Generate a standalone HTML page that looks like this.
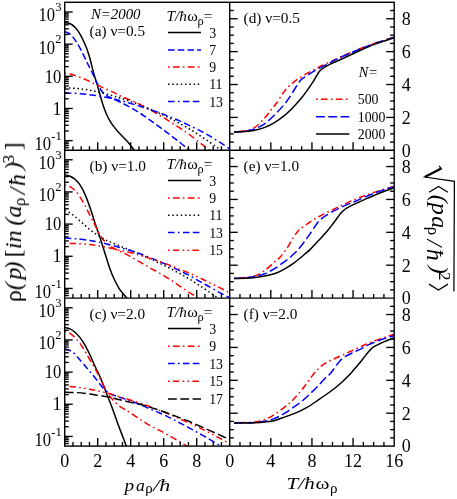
<!DOCTYPE html>
<html><head><meta charset="utf-8"><title>chart</title>
<style>html,body{margin:0;padding:0;background:#fff;}svg{display:block;}text{font-family:"Liberation Serif",serif;fill:#000;}</style>
</head><body>
<svg width="457" height="499" viewBox="0 0 457 499">
<g style="filter:opacity(100%)">
<defs>
<clipPath id="cl0"><rect x="64.7" y="2.3" width="165.0" height="148.0"/></clipPath>
<clipPath id="cr0"><rect x="229.7" y="2.3" width="164.5" height="148.0"/></clipPath>
<clipPath id="cl1"><rect x="64.7" y="150.1" width="165.0" height="148.0"/></clipPath>
<clipPath id="cr1"><rect x="229.7" y="150.1" width="164.5" height="148.0"/></clipPath>
<clipPath id="cl2"><rect x="64.7" y="298.1" width="165.0" height="148.0"/></clipPath>
<clipPath id="cr2"><rect x="229.7" y="298.1" width="164.5" height="148.0"/></clipPath>
</defs>
<path d="M64.70,22.50C65.58,22.72 68.28,23.00 70.00,23.80C71.72,24.60 73.33,25.58 75.00,27.30C76.67,29.02 78.33,31.27 80.00,34.10C81.67,36.93 83.67,41.28 85.00,44.30C86.33,47.32 87.08,49.50 88.00,52.20C88.92,54.90 89.72,57.60 90.50,60.50C91.28,63.40 91.97,66.80 92.70,69.60C93.43,72.40 94.15,74.80 94.90,77.30C95.65,79.80 96.53,82.38 97.20,84.60C97.87,86.82 98.37,88.70 98.90,90.60C99.43,92.50 99.72,93.62 100.40,96.00C101.08,98.38 102.02,101.95 103.00,104.90C103.98,107.85 105.20,111.13 106.30,113.70C107.40,116.27 108.32,118.10 109.60,120.30C110.88,122.50 112.17,124.52 114.00,126.90C115.83,129.28 118.40,132.20 120.60,134.60C122.80,137.00 125.08,138.90 127.20,141.30C129.32,143.70 131.67,146.95 133.30,149.00C134.93,151.05 136.38,152.83 137.00,153.60" fill="none" stroke="#000" stroke-width="1.5" clip-path="url(#cl0)"/>
<path d="M64.70,31.60C65.58,32.02 68.28,32.72 70.00,34.10C71.72,35.48 73.33,37.55 75.00,39.90C76.67,42.25 78.33,45.15 80.00,48.20C81.67,51.25 83.62,55.40 85.00,58.20C86.38,61.00 86.98,62.33 88.30,65.00C89.62,67.67 91.48,71.25 92.90,74.20C94.32,77.15 95.62,80.32 96.80,82.70C97.98,85.08 99.05,86.95 100.00,88.50C100.95,90.05 101.58,90.92 102.50,92.00C103.42,93.08 103.98,93.97 105.50,95.00C107.02,96.03 109.18,97.03 111.60,98.20C114.02,99.37 116.93,100.50 120.00,102.00C123.07,103.50 126.67,105.33 130.00,107.20C133.33,109.07 136.67,111.05 140.00,113.20C143.33,115.35 146.67,117.75 150.00,120.10C153.33,122.45 156.67,124.85 160.00,127.30C163.33,129.75 166.67,132.27 170.00,134.80C173.33,137.33 177.10,140.20 180.00,142.50C182.90,144.80 185.40,146.92 187.40,148.60C189.40,150.28 191.23,151.93 192.00,152.60" fill="none" stroke="#0000ff" stroke-width="1.5" stroke-dasharray="6.6 3.1" clip-path="url(#cl0)"/>
<path d="M64.70,73.10C65.58,73.25 68.27,73.60 70.00,74.00C71.73,74.40 72.50,74.57 75.10,75.50C77.70,76.43 82.10,78.08 85.60,79.60C89.10,81.12 92.60,82.98 96.10,84.60C99.60,86.22 103.53,87.93 106.60,89.30C109.67,90.67 112.27,91.72 114.50,92.80C116.73,93.88 117.42,94.62 120.00,95.80C122.58,96.98 126.67,98.47 130.00,99.90C133.33,101.33 136.67,102.73 140.00,104.40C143.33,106.07 146.67,108.05 150.00,109.90C153.33,111.75 156.67,113.53 160.00,115.50C163.33,117.47 166.67,119.58 170.00,121.70C173.33,123.82 176.67,125.98 180.00,128.20C183.33,130.42 186.67,132.55 190.00,135.00C193.33,137.45 196.97,140.57 200.00,142.90C203.03,145.23 206.03,147.32 208.20,149.00C210.37,150.68 212.20,152.33 213.00,153.00" fill="none" stroke="#ff0000" stroke-width="1.5" stroke-dasharray="1.6 3.3 6.7 3.3" clip-path="url(#cl0)"/>
<path d="M64.70,87.70C65.57,87.75 67.28,87.80 69.90,88.00C72.52,88.20 76.90,88.50 80.40,88.90C83.90,89.30 87.40,89.75 90.90,90.40C94.40,91.05 97.90,91.93 101.40,92.80C104.90,93.67 108.80,94.75 111.90,95.60C115.00,96.45 116.98,96.95 120.00,97.90C123.02,98.85 126.67,100.13 130.00,101.30C133.33,102.47 136.67,103.60 140.00,104.90C143.33,106.20 146.67,107.67 150.00,109.10C153.33,110.53 156.67,111.95 160.00,113.50C163.33,115.05 166.67,116.70 170.00,118.40C173.33,120.10 176.67,121.88 180.00,123.70C183.33,125.52 186.67,127.30 190.00,129.30C193.33,131.30 196.67,133.52 200.00,135.70C203.33,137.88 206.97,140.32 210.00,142.40C213.03,144.48 215.87,146.43 218.20,148.20C220.53,149.97 223.03,152.20 224.00,153.00" fill="none" stroke="#000" stroke-width="1.5" stroke-dasharray="1.5 2.75" clip-path="url(#cl0)"/>
<path d="M64.70,92.90C65.13,92.92 64.68,92.87 67.30,93.00C69.92,93.13 76.47,93.38 80.40,93.70C84.33,94.02 87.40,94.43 90.90,94.90C94.40,95.37 97.90,95.88 101.40,96.50C104.90,97.12 108.80,97.95 111.90,98.60C115.00,99.25 116.98,99.62 120.00,100.40C123.02,101.18 126.67,102.32 130.00,103.30C133.33,104.28 136.67,105.25 140.00,106.30C143.33,107.35 146.67,108.50 150.00,109.60C153.33,110.70 156.67,111.68 160.00,112.90C163.33,114.12 166.67,115.53 170.00,116.90C173.33,118.27 176.67,119.62 180.00,121.10C183.33,122.58 186.67,124.20 190.00,125.80C193.33,127.40 196.67,128.97 200.00,130.70C203.33,132.43 206.67,134.25 210.00,136.20C213.33,138.15 216.83,140.35 220.00,142.40C223.17,144.45 226.83,146.90 229.00,148.50C231.17,150.10 232.33,151.42 233.00,152.00" fill="none" stroke="#0000ff" stroke-width="1.5" stroke-dasharray="6.6 3.3 1.7 3.3 6.6 3.3" clip-path="url(#cl0)"/>
<path d="M64.70,174.60C65.58,174.87 68.28,175.43 70.00,176.20C71.72,176.97 73.25,177.63 75.00,179.20C76.75,180.77 78.67,182.70 80.50,185.60C82.33,188.50 84.17,192.18 86.00,196.60C87.83,201.02 90.03,207.78 91.50,212.10C92.97,216.42 93.80,219.48 94.80,222.50C95.80,225.52 96.60,227.62 97.50,230.20C98.40,232.78 99.18,234.87 100.20,238.00C101.22,241.13 102.53,245.57 103.60,249.00C104.67,252.43 105.50,255.18 106.60,258.60C107.70,262.02 108.97,266.13 110.20,269.50C111.43,272.87 112.53,275.67 114.00,278.80C115.47,281.93 117.33,285.63 119.00,288.30C120.67,290.97 122.60,293.07 124.00,294.80C125.40,296.53 126.40,297.50 127.40,298.70C128.40,299.90 129.57,301.45 130.00,302.00" fill="none" stroke="#000" stroke-width="1.5" clip-path="url(#cl1)"/>
<path d="M64.70,184.90C65.58,185.18 68.28,185.68 70.00,186.60C71.72,187.52 73.33,188.65 75.00,190.40C76.67,192.15 78.33,194.60 80.00,197.10C81.67,199.60 83.33,202.35 85.00,205.40C86.67,208.45 88.47,212.38 90.00,215.40C91.53,218.42 93.03,221.18 94.20,223.50C95.37,225.82 96.10,227.52 97.00,229.30C97.90,231.08 98.57,232.45 99.60,234.20C100.63,235.95 101.77,238.07 103.20,239.80C104.63,241.53 106.85,243.42 108.20,244.60C109.55,245.78 109.27,245.75 111.30,246.90C113.33,248.05 117.28,249.93 120.40,251.50C123.52,253.07 126.73,254.53 130.00,256.30C133.27,258.07 136.67,260.17 140.00,262.10C143.33,264.03 146.67,266.02 150.00,267.90C153.33,269.78 156.67,271.45 160.00,273.40C163.33,275.35 166.67,277.45 170.00,279.60C173.33,281.75 176.67,284.08 180.00,286.30C183.33,288.52 187.23,291.12 190.00,292.90C192.77,294.68 194.60,295.65 196.60,297.00C198.60,298.35 201.10,300.33 202.00,301.00" fill="none" stroke="#ff0000" stroke-width="1.5" stroke-dasharray="1.6 3.3 6.7 3.3" clip-path="url(#cl1)"/>
<path d="M64.70,210.40C65.58,210.82 68.28,211.88 70.00,212.90C71.72,213.92 73.33,215.15 75.00,216.50C76.67,217.85 78.33,219.53 80.00,221.00C81.67,222.47 83.50,223.97 85.00,225.30C86.50,226.63 87.68,227.92 89.00,229.00C90.32,230.08 91.35,230.70 92.90,231.80C94.45,232.90 96.30,234.32 98.30,235.60C100.30,236.88 102.97,238.45 104.90,239.50C106.83,240.55 107.38,240.82 109.90,241.90C112.42,242.98 116.65,244.65 120.00,246.00C123.35,247.35 126.67,248.62 130.00,250.00C133.33,251.38 136.67,252.83 140.00,254.30C143.33,255.77 146.67,257.28 150.00,258.80C153.33,260.32 156.67,261.82 160.00,263.40C163.33,264.98 166.67,266.58 170.00,268.30C173.33,270.02 176.67,271.85 180.00,273.70C183.33,275.55 186.67,277.37 190.00,279.40C193.33,281.43 196.67,283.72 200.00,285.90C203.33,288.08 207.25,290.65 210.00,292.50C212.75,294.35 214.50,295.58 216.50,297.00C218.50,298.42 221.08,300.33 222.00,301.00" fill="none" stroke="#000" stroke-width="1.5" stroke-dasharray="1.5 2.75" clip-path="url(#cl1)"/>
<path d="M64.70,238.00C66.68,238.13 72.40,238.40 76.60,238.80C80.80,239.20 86.32,239.87 89.90,240.40C93.48,240.93 94.53,241.20 98.10,242.00C101.67,242.80 107.65,244.27 111.30,245.20C114.95,246.13 116.88,246.72 120.00,247.60C123.12,248.48 126.67,249.47 130.00,250.50C133.33,251.53 136.67,252.62 140.00,253.80C143.33,254.98 146.67,256.27 150.00,257.60C153.33,258.93 156.67,260.38 160.00,261.80C163.33,263.22 166.67,264.60 170.00,266.10C173.33,267.60 176.67,269.20 180.00,270.80C183.33,272.40 186.67,273.90 190.00,275.70C193.33,277.50 196.67,279.70 200.00,281.60C203.33,283.50 206.67,285.22 210.00,287.10C213.33,288.98 216.97,291.25 220.00,292.90C223.03,294.55 226.03,295.82 228.20,297.00C230.37,298.18 232.20,299.50 233.00,300.00" fill="none" stroke="#0000ff" stroke-width="1.5" stroke-dasharray="6.6 3.3 1.7 3.3 6.6 3.3" clip-path="url(#cl1)"/>
<path d="M64.70,243.30C66.68,243.35 72.40,243.38 76.60,243.60C80.80,243.82 86.32,244.22 89.90,244.60C93.48,244.98 94.53,245.28 98.10,245.90C101.67,246.52 107.65,247.53 111.30,248.30C114.95,249.07 116.88,249.78 120.00,250.50C123.12,251.22 126.67,251.78 130.00,252.60C133.33,253.42 136.67,254.43 140.00,255.40C143.33,256.37 146.67,257.33 150.00,258.40C153.33,259.47 156.67,260.65 160.00,261.80C163.33,262.95 166.67,264.05 170.00,265.30C173.33,266.55 176.67,267.97 180.00,269.30C183.33,270.63 186.67,271.87 190.00,273.30C193.33,274.73 196.67,276.30 200.00,277.90C203.33,279.50 206.67,281.23 210.00,282.90C213.33,284.57 216.95,286.38 220.00,287.90C223.05,289.42 226.13,290.90 228.30,292.00C230.47,293.10 232.22,294.08 233.00,294.50" fill="none" stroke="#ff0000" stroke-width="1.5" stroke-dasharray="1.5 3.4 6.4 3.4 1.5 3.3" clip-path="url(#cl1)"/>
<path d="M64.70,327.60C65.58,327.82 68.28,328.12 70.00,328.90C71.72,329.68 73.33,330.85 75.00,332.30C76.67,333.75 78.33,335.47 80.00,337.60C81.67,339.73 83.33,342.20 85.00,345.10C86.67,348.00 88.33,351.48 90.00,355.00C91.67,358.52 93.35,362.62 95.00,366.20C96.65,369.78 98.72,373.90 99.90,376.50C101.08,379.10 101.08,379.22 102.10,381.80C103.12,384.38 104.70,388.63 106.00,392.00C107.30,395.37 108.65,398.75 109.90,402.00C111.15,405.25 112.07,407.58 113.50,411.50C114.93,415.42 117.02,421.45 118.50,425.50C119.98,429.55 121.15,432.50 122.40,435.80C123.65,439.10 124.90,442.43 126.00,445.30C127.10,448.17 128.50,451.72 129.00,453.00" fill="none" stroke="#000" stroke-width="1.5" clip-path="url(#cl2)"/>
<path d="M64.70,331.30C65.58,331.65 68.28,332.35 70.00,333.40C71.72,334.45 73.33,335.93 75.00,337.60C76.67,339.27 78.33,341.13 80.00,343.40C81.67,345.67 83.33,348.43 85.00,351.20C86.67,353.97 88.33,357.12 90.00,360.00C91.67,362.88 93.48,365.75 95.00,368.50C96.52,371.25 97.67,373.67 99.10,376.50C100.53,379.33 102.08,382.67 103.60,385.50C105.12,388.33 106.80,391.25 108.20,393.50C109.60,395.75 110.40,397.12 112.00,399.00C113.60,400.88 115.80,403.13 117.80,404.80C119.80,406.47 121.97,407.70 124.00,409.00C126.03,410.30 127.33,410.88 130.00,412.60C132.67,414.32 136.67,417.13 140.00,419.30C143.33,421.47 146.67,423.72 150.00,425.60C153.33,427.48 156.67,428.83 160.00,430.60C163.33,432.37 166.67,434.32 170.00,436.20C173.33,438.08 177.23,440.28 180.00,441.90C182.77,443.52 184.60,444.72 186.60,445.90C188.60,447.08 191.10,448.48 192.00,449.00" fill="none" stroke="#ff0000" stroke-width="1.5" stroke-dasharray="1.6 3.3 6.7 3.3" clip-path="url(#cl2)"/>
<path d="M64.70,348.90C65.58,349.17 68.28,349.62 70.00,350.50C71.72,351.38 73.33,352.62 75.00,354.20C76.67,355.78 78.33,358.07 80.00,360.00C81.67,361.93 83.28,363.80 85.00,365.80C86.72,367.80 88.33,369.63 90.30,372.00C92.27,374.37 94.62,377.27 96.80,380.00C98.98,382.73 101.43,386.23 103.40,388.40C105.37,390.57 106.63,391.77 108.60,393.00C110.57,394.23 112.57,394.82 115.20,395.80C117.83,396.78 121.93,398.08 124.40,398.90C126.87,399.72 127.40,399.75 130.00,400.70C132.60,401.65 136.67,403.23 140.00,404.60C143.33,405.97 146.67,407.50 150.00,408.90C153.33,410.30 156.67,411.52 160.00,413.00C163.33,414.48 166.67,416.13 170.00,417.80C173.33,419.47 176.67,421.25 180.00,423.00C183.33,424.75 186.67,426.48 190.00,428.30C193.33,430.12 196.67,432.02 200.00,433.90C203.33,435.78 206.83,437.75 210.00,439.60C213.17,441.45 216.50,443.43 219.00,445.00C221.50,446.57 224.00,448.33 225.00,449.00" fill="none" stroke="#0000ff" stroke-width="1.5" stroke-dasharray="6.6 3.3 1.7 3.3 6.6 3.3" clip-path="url(#cl2)"/>
<path d="M64.70,386.00C66.68,386.18 72.40,386.55 76.60,387.10C80.80,387.65 86.75,388.77 89.90,389.30C93.05,389.83 92.82,389.72 95.50,390.30C98.18,390.88 102.50,391.87 106.00,392.80C109.50,393.73 113.00,394.87 116.50,395.90C120.00,396.93 123.08,397.80 127.00,399.00C130.92,400.20 136.17,401.80 140.00,403.10C143.83,404.40 146.67,405.55 150.00,406.80C153.33,408.05 156.67,409.30 160.00,410.60C163.33,411.90 166.67,413.22 170.00,414.60C173.33,415.98 176.67,417.45 180.00,418.90C183.33,420.35 186.67,421.77 190.00,423.30C193.33,424.83 196.67,426.47 200.00,428.10C203.33,429.73 206.67,431.38 210.00,433.10C213.33,434.82 216.83,436.68 220.00,438.40C223.17,440.12 226.83,442.13 229.00,443.40C231.17,444.67 232.33,445.57 233.00,446.00" fill="none" stroke="#ff0000" stroke-width="1.5" stroke-dasharray="1.5 3.4 6.4 3.4 1.5 3.3" clip-path="url(#cl2)"/>
<path d="M64.70,392.10C66.68,392.18 72.40,392.30 76.60,392.60C80.80,392.90 86.75,393.52 89.90,393.90C93.05,394.28 92.82,394.47 95.50,394.90C98.18,395.33 102.50,395.83 106.00,396.50C109.50,397.17 113.00,398.08 116.50,398.90C120.00,399.72 123.08,400.50 127.00,401.40C130.92,402.30 136.17,403.32 140.00,404.30C143.83,405.28 146.67,406.28 150.00,407.30C153.33,408.32 156.67,409.28 160.00,410.40C163.33,411.52 166.67,412.75 170.00,414.00C173.33,415.25 176.67,416.60 180.00,417.90C183.33,419.20 186.67,420.42 190.00,421.80C193.33,423.18 196.67,424.73 200.00,426.20C203.33,427.67 206.67,429.12 210.00,430.60C213.33,432.08 216.83,433.67 220.00,435.10C223.17,436.53 226.83,438.22 229.00,439.20C231.17,440.18 232.33,440.70 233.00,441.00" fill="none" stroke="#000" stroke-width="1.5" stroke-dasharray="8.8 3.5" clip-path="url(#cl2)"/>
<path d="M234.10,131.90C235.92,131.70 241.53,131.45 245.00,130.70C248.47,129.95 251.58,129.55 254.90,127.40C258.22,125.25 262.22,120.70 264.90,117.80C267.58,114.90 269.08,112.42 271.00,110.00C272.92,107.58 274.53,105.92 276.40,103.30C278.27,100.68 280.40,96.87 282.20,94.30C284.00,91.73 285.27,89.93 287.20,87.90C289.13,85.87 291.12,84.17 293.80,82.10C296.48,80.03 300.07,77.50 303.30,75.50C306.53,73.50 309.88,71.85 313.20,70.10C316.52,68.35 319.87,66.62 323.20,65.00C326.53,63.38 330.13,61.82 333.20,60.40C336.27,58.98 337.42,58.32 341.60,56.50C345.78,54.68 352.75,51.73 358.30,49.50C363.85,47.27 368.92,45.15 374.90,43.10C380.88,41.05 390.98,38.18 394.20,37.20" fill="none" stroke="#ff0000" stroke-width="1.5" stroke-dasharray="1.6 3.3 6.7 3.3" clip-path="url(#cr0)"/>
<path d="M234.10,132.00C235.92,131.87 241.53,131.70 245.00,131.20C248.47,130.70 251.58,130.27 254.90,129.00C258.22,127.73 261.57,126.00 264.90,123.60C268.23,121.20 271.55,117.93 274.90,114.60C278.25,111.27 282.40,106.73 285.00,103.60C287.60,100.47 288.67,98.57 290.50,95.80C292.33,93.03 294.35,89.53 296.00,87.00C297.65,84.47 299.15,82.12 300.40,80.60C301.65,79.08 302.40,78.75 303.50,77.90C304.60,77.05 305.58,76.43 307.00,75.50C308.42,74.57 310.17,73.40 312.00,72.30C313.83,71.20 315.17,70.40 318.00,68.90C320.83,67.40 326.47,64.62 329.00,63.30C331.53,61.98 331.10,62.08 333.20,61.00C335.30,59.92 337.42,58.67 341.60,56.80C345.78,54.93 352.75,52.03 358.30,49.80C363.85,47.57 368.92,45.48 374.90,43.40C380.88,41.32 390.98,38.32 394.20,37.30" fill="none" stroke="#0000ff" stroke-width="1.5" stroke-dasharray="8.8 3.5" clip-path="url(#cr0)"/>
<path d="M234.10,132.00C235.92,131.92 241.53,131.80 245.00,131.50C248.47,131.20 251.58,130.88 254.90,130.20C258.22,129.52 261.57,128.70 264.90,127.40C268.23,126.10 271.57,124.43 274.90,122.40C278.23,120.37 282.30,117.27 284.90,115.20C287.50,113.13 288.65,111.83 290.50,110.00C292.35,108.17 294.17,106.20 296.00,104.20C297.83,102.20 299.67,100.27 301.50,98.00C303.33,95.73 305.17,93.17 307.00,90.60C308.83,88.03 310.92,85.03 312.50,82.60C314.08,80.17 315.40,77.80 316.50,76.00C317.60,74.20 318.35,72.85 319.10,71.80C319.85,70.75 320.27,70.35 321.00,69.70C321.73,69.05 322.33,68.63 323.50,67.90C324.67,67.17 326.08,66.28 328.00,65.30C329.92,64.32 332.73,63.05 335.00,62.00C337.27,60.95 337.72,60.80 341.60,59.00C345.48,57.20 352.75,53.68 358.30,51.20C363.85,48.72 368.92,46.35 374.90,44.10C380.88,41.85 390.98,38.77 394.20,37.70" fill="none" stroke="#000" stroke-width="1.5" clip-path="url(#cr0)"/>
<path d="M234.10,278.20C235.92,278.08 241.53,277.88 245.00,277.50C248.47,277.12 251.58,277.08 254.90,275.90C258.22,274.72 261.57,272.78 264.90,270.40C268.23,268.02 272.38,263.80 274.90,261.60C277.42,259.40 278.03,259.37 280.00,257.20C281.97,255.03 284.48,251.83 286.70,248.60C288.92,245.37 291.37,240.77 293.30,237.80C295.23,234.83 296.37,232.83 298.30,230.80C300.23,228.77 302.40,227.43 304.90,225.60C307.40,223.77 310.25,221.67 313.30,219.80C316.35,217.93 319.88,216.13 323.20,214.40C326.52,212.67 329.87,211.02 333.20,209.40C336.53,207.78 339.02,206.62 343.20,204.70C347.38,202.78 353.02,200.00 358.30,197.90C363.58,195.80 368.92,194.05 374.90,192.10C380.88,190.15 390.98,187.18 394.20,186.20" fill="none" stroke="#ff0000" stroke-width="1.5" stroke-dasharray="1.6 3.3 6.7 3.3" clip-path="url(#cr1)"/>
<path d="M234.10,278.40C235.92,278.33 241.53,278.32 245.00,278.00C248.47,277.68 251.58,277.22 254.90,276.50C258.22,275.78 261.57,275.05 264.90,273.70C268.23,272.35 271.57,270.45 274.90,268.40C278.23,266.35 282.38,263.23 284.90,261.40C287.42,259.57 288.05,259.08 290.00,257.40C291.95,255.72 294.38,253.67 296.60,251.30C298.82,248.93 301.08,246.08 303.30,243.20C305.52,240.32 307.68,237.20 309.90,234.00C312.12,230.80 314.80,226.43 316.60,224.00C318.40,221.57 319.03,220.87 320.70,219.40C322.37,217.93 323.97,216.83 326.60,215.20C329.23,213.57 333.18,211.32 336.50,209.60C339.82,207.88 342.87,206.50 346.50,204.90C350.13,203.30 353.57,202.00 358.30,200.00C363.03,198.00 368.92,195.12 374.90,192.90C380.88,190.68 390.98,187.73 394.20,186.70" fill="none" stroke="#0000ff" stroke-width="1.5" stroke-dasharray="8.8 3.5" clip-path="url(#cr1)"/>
<path d="M234.10,278.40C235.92,278.37 241.53,278.35 245.00,278.20C248.47,278.05 251.58,277.87 254.90,277.50C258.22,277.13 261.57,276.67 264.90,276.00C268.23,275.33 272.05,274.45 274.90,273.50C277.75,272.55 279.82,271.40 282.00,270.30C284.18,269.20 286.17,268.02 288.00,266.90C289.83,265.78 291.17,264.92 293.00,263.60C294.83,262.28 297.17,260.47 299.00,259.00C300.83,257.53 302.17,256.37 304.00,254.80C305.83,253.23 308.00,251.53 310.00,249.60C312.00,247.67 314.08,245.23 316.00,243.20C317.92,241.17 319.67,239.38 321.50,237.40C323.33,235.42 325.17,233.47 327.00,231.30C328.83,229.13 330.67,226.78 332.50,224.40C334.33,222.02 336.58,218.88 338.00,217.00C339.42,215.12 340.08,214.18 341.00,213.10C341.92,212.02 342.67,211.27 343.50,210.50C344.33,209.73 345.08,209.12 346.00,208.50C346.92,207.88 347.50,207.57 349.00,206.80C350.50,206.03 352.35,205.13 355.00,203.90C357.65,202.67 361.03,201.10 364.90,199.40C368.77,197.70 373.32,195.63 378.20,193.70C383.08,191.77 391.53,188.78 394.20,187.80" fill="none" stroke="#000" stroke-width="1.5" clip-path="url(#cr1)"/>
<path d="M234.10,423.00C237.57,422.83 249.77,422.57 254.90,422.00C260.03,421.43 261.57,420.90 264.90,419.60C268.23,418.30 271.57,416.32 274.90,414.20C278.23,412.08 282.10,409.05 284.90,406.90C287.70,404.75 289.47,403.45 291.70,401.30C293.93,399.15 296.08,396.58 298.30,394.00C300.52,391.42 302.78,388.70 305.00,385.80C307.22,382.90 309.67,379.13 311.60,376.60C313.53,374.07 314.93,372.40 316.60,370.60C318.27,368.80 319.67,367.27 321.60,365.80C323.53,364.33 325.98,363.02 328.20,361.80C330.42,360.58 332.10,359.82 334.90,358.50C337.70,357.18 341.67,355.42 345.00,353.90C348.33,352.38 351.58,350.92 354.90,349.40C358.22,347.88 361.57,346.23 364.90,344.80C368.23,343.37 371.57,342.05 374.90,340.80C378.23,339.55 381.68,338.40 384.90,337.30C388.12,336.20 392.65,334.72 394.20,334.20" fill="none" stroke="#ff0000" stroke-width="1.5" stroke-dasharray="1.6 3.3 6.7 3.3" clip-path="url(#cr2)"/>
<path d="M234.10,423.00C237.57,422.92 249.77,422.80 254.90,422.50C260.03,422.20 261.57,421.88 264.90,421.20C268.23,420.52 271.57,419.77 274.90,418.40C278.23,417.03 281.83,414.85 284.90,413.00C287.97,411.15 290.52,409.22 293.30,407.30C296.08,405.38 298.83,403.72 301.60,401.50C304.37,399.28 307.12,396.63 309.90,394.00C312.68,391.37 315.52,388.60 318.30,385.70C321.08,382.80 324.65,378.53 326.60,376.60C328.55,374.67 328.52,375.77 330.00,374.10C331.48,372.43 333.67,368.98 335.50,366.60C337.33,364.22 339.53,361.40 341.00,359.80C342.47,358.20 343.38,357.67 344.30,357.00C345.22,356.33 345.22,356.47 346.50,355.80C347.78,355.13 349.58,354.17 352.00,353.00C354.42,351.83 358.30,350.15 361.00,348.80C363.70,347.45 365.33,346.23 368.20,344.90C371.07,343.57 373.87,342.37 378.20,340.80C382.53,339.23 391.53,336.38 394.20,335.50" fill="none" stroke="#0000ff" stroke-width="1.5" stroke-dasharray="8.8 3.5" clip-path="url(#cr2)"/>
<path d="M234.10,423.00C235.92,423.00 241.53,423.05 245.00,423.00C248.47,422.95 251.58,422.88 254.90,422.70C258.22,422.52 261.57,422.28 264.90,421.90C268.23,421.52 271.55,421.23 274.90,420.40C278.25,419.57 281.48,418.15 285.00,416.90C288.52,415.65 292.33,414.48 296.00,412.90C299.67,411.32 303.33,409.52 307.00,407.40C310.67,405.28 314.33,402.68 318.00,400.20C321.67,397.72 326.17,394.53 329.00,392.50C331.83,390.47 333.00,389.58 335.00,388.00C337.00,386.42 339.08,384.70 341.00,383.00C342.92,381.30 344.67,379.65 346.50,377.80C348.33,375.95 350.17,373.93 352.00,371.90C353.83,369.87 355.67,367.80 357.50,365.60C359.33,363.40 361.17,361.00 363.00,358.70C364.83,356.40 367.08,353.48 368.50,351.80C369.92,350.12 370.58,349.45 371.50,348.60C372.42,347.75 372.58,347.53 374.00,346.70C375.42,345.87 378.18,344.48 380.00,343.60C381.82,342.72 382.53,342.37 384.90,341.40C387.27,340.43 392.65,338.40 394.20,337.80" fill="none" stroke="#000" stroke-width="1.5" clip-path="url(#cr2)"/>
<line x1="64.70" y1="147.75" x2="68.80" y2="147.75" stroke="#000" stroke-width="1.35" />
<line x1="64.70" y1="145.60" x2="68.80" y2="145.60" stroke="#000" stroke-width="1.35" />
<line x1="64.70" y1="143.74" x2="68.80" y2="143.74" stroke="#000" stroke-width="1.35" />
<line x1="64.70" y1="142.09" x2="68.80" y2="142.09" stroke="#000" stroke-width="1.35" />
<line x1="64.70" y1="140.62" x2="72.70" y2="140.62" stroke="#000" stroke-width="1.35" />
<line x1="64.70" y1="130.94" x2="68.80" y2="130.94" stroke="#000" stroke-width="1.35" />
<line x1="64.70" y1="125.28" x2="68.80" y2="125.28" stroke="#000" stroke-width="1.35" />
<line x1="64.70" y1="121.26" x2="68.80" y2="121.26" stroke="#000" stroke-width="1.35" />
<line x1="64.70" y1="118.14" x2="68.80" y2="118.14" stroke="#000" stroke-width="1.35" />
<line x1="64.70" y1="115.59" x2="68.80" y2="115.59" stroke="#000" stroke-width="1.35" />
<line x1="64.70" y1="113.44" x2="68.80" y2="113.44" stroke="#000" stroke-width="1.35" />
<line x1="64.70" y1="111.58" x2="68.80" y2="111.58" stroke="#000" stroke-width="1.35" />
<line x1="64.70" y1="109.93" x2="68.80" y2="109.93" stroke="#000" stroke-width="1.35" />
<line x1="64.70" y1="108.46" x2="72.70" y2="108.46" stroke="#000" stroke-width="1.35" />
<line x1="64.70" y1="98.78" x2="68.80" y2="98.78" stroke="#000" stroke-width="1.35" />
<line x1="64.70" y1="93.12" x2="68.80" y2="93.12" stroke="#000" stroke-width="1.35" />
<line x1="64.70" y1="89.10" x2="68.80" y2="89.10" stroke="#000" stroke-width="1.35" />
<line x1="64.70" y1="85.98" x2="68.80" y2="85.98" stroke="#000" stroke-width="1.35" />
<line x1="64.70" y1="83.43" x2="68.80" y2="83.43" stroke="#000" stroke-width="1.35" />
<line x1="64.70" y1="81.28" x2="68.80" y2="81.28" stroke="#000" stroke-width="1.35" />
<line x1="64.70" y1="79.42" x2="68.80" y2="79.42" stroke="#000" stroke-width="1.35" />
<line x1="64.70" y1="77.77" x2="68.80" y2="77.77" stroke="#000" stroke-width="1.35" />
<line x1="64.70" y1="76.30" x2="72.70" y2="76.30" stroke="#000" stroke-width="1.35" />
<line x1="64.70" y1="66.62" x2="68.80" y2="66.62" stroke="#000" stroke-width="1.35" />
<line x1="64.70" y1="60.96" x2="68.80" y2="60.96" stroke="#000" stroke-width="1.35" />
<line x1="64.70" y1="56.94" x2="68.80" y2="56.94" stroke="#000" stroke-width="1.35" />
<line x1="64.70" y1="53.82" x2="68.80" y2="53.82" stroke="#000" stroke-width="1.35" />
<line x1="64.70" y1="51.28" x2="68.80" y2="51.28" stroke="#000" stroke-width="1.35" />
<line x1="64.70" y1="49.12" x2="68.80" y2="49.12" stroke="#000" stroke-width="1.35" />
<line x1="64.70" y1="47.26" x2="68.80" y2="47.26" stroke="#000" stroke-width="1.35" />
<line x1="64.70" y1="45.61" x2="68.80" y2="45.61" stroke="#000" stroke-width="1.35" />
<line x1="64.70" y1="44.14" x2="72.70" y2="44.14" stroke="#000" stroke-width="1.35" />
<line x1="64.70" y1="34.46" x2="68.80" y2="34.46" stroke="#000" stroke-width="1.35" />
<line x1="64.70" y1="28.80" x2="68.80" y2="28.80" stroke="#000" stroke-width="1.35" />
<line x1="64.70" y1="24.78" x2="68.80" y2="24.78" stroke="#000" stroke-width="1.35" />
<line x1="64.70" y1="21.66" x2="68.80" y2="21.66" stroke="#000" stroke-width="1.35" />
<line x1="64.70" y1="19.12" x2="68.80" y2="19.12" stroke="#000" stroke-width="1.35" />
<line x1="64.70" y1="16.96" x2="68.80" y2="16.96" stroke="#000" stroke-width="1.35" />
<line x1="64.70" y1="15.10" x2="68.80" y2="15.10" stroke="#000" stroke-width="1.35" />
<line x1="64.70" y1="13.45" x2="68.80" y2="13.45" stroke="#000" stroke-width="1.35" />
<line x1="64.70" y1="11.98" x2="72.70" y2="11.98" stroke="#000" stroke-width="1.35" />
<line x1="72.95" y1="150.30" x2="72.95" y2="146.20" stroke="#000" stroke-width="1.35" />
<line x1="81.20" y1="150.30" x2="81.20" y2="146.20" stroke="#000" stroke-width="1.35" />
<line x1="89.45" y1="150.30" x2="89.45" y2="146.20" stroke="#000" stroke-width="1.35" />
<line x1="97.70" y1="150.30" x2="97.70" y2="142.30" stroke="#000" stroke-width="1.35" />
<line x1="105.95" y1="150.30" x2="105.95" y2="146.20" stroke="#000" stroke-width="1.35" />
<line x1="114.20" y1="150.30" x2="114.20" y2="146.20" stroke="#000" stroke-width="1.35" />
<line x1="122.45" y1="150.30" x2="122.45" y2="146.20" stroke="#000" stroke-width="1.35" />
<line x1="130.70" y1="150.30" x2="130.70" y2="142.30" stroke="#000" stroke-width="1.35" />
<line x1="138.95" y1="150.30" x2="138.95" y2="146.20" stroke="#000" stroke-width="1.35" />
<line x1="147.20" y1="150.30" x2="147.20" y2="146.20" stroke="#000" stroke-width="1.35" />
<line x1="155.45" y1="150.30" x2="155.45" y2="146.20" stroke="#000" stroke-width="1.35" />
<line x1="163.70" y1="150.30" x2="163.70" y2="142.30" stroke="#000" stroke-width="1.35" />
<line x1="171.95" y1="150.30" x2="171.95" y2="146.20" stroke="#000" stroke-width="1.35" />
<line x1="180.20" y1="150.30" x2="180.20" y2="146.20" stroke="#000" stroke-width="1.35" />
<line x1="188.45" y1="150.30" x2="188.45" y2="146.20" stroke="#000" stroke-width="1.35" />
<line x1="196.70" y1="150.30" x2="196.70" y2="142.30" stroke="#000" stroke-width="1.35" />
<line x1="204.95" y1="150.30" x2="204.95" y2="146.20" stroke="#000" stroke-width="1.35" />
<line x1="213.20" y1="150.30" x2="213.20" y2="146.20" stroke="#000" stroke-width="1.35" />
<line x1="221.45" y1="150.30" x2="221.45" y2="146.20" stroke="#000" stroke-width="1.35" />
<line x1="239.98" y1="150.30" x2="239.98" y2="146.20" stroke="#000" stroke-width="1.35" />
<line x1="250.26" y1="150.30" x2="250.26" y2="146.20" stroke="#000" stroke-width="1.35" />
<line x1="260.54" y1="150.30" x2="260.54" y2="146.20" stroke="#000" stroke-width="1.35" />
<line x1="270.82" y1="150.30" x2="270.82" y2="142.30" stroke="#000" stroke-width="1.35" />
<line x1="281.11" y1="150.30" x2="281.11" y2="146.20" stroke="#000" stroke-width="1.35" />
<line x1="291.39" y1="150.30" x2="291.39" y2="146.20" stroke="#000" stroke-width="1.35" />
<line x1="301.67" y1="150.30" x2="301.67" y2="146.20" stroke="#000" stroke-width="1.35" />
<line x1="311.95" y1="150.30" x2="311.95" y2="142.30" stroke="#000" stroke-width="1.35" />
<line x1="322.23" y1="150.30" x2="322.23" y2="146.20" stroke="#000" stroke-width="1.35" />
<line x1="332.51" y1="150.30" x2="332.51" y2="146.20" stroke="#000" stroke-width="1.35" />
<line x1="342.79" y1="150.30" x2="342.79" y2="146.20" stroke="#000" stroke-width="1.35" />
<line x1="353.07" y1="150.30" x2="353.07" y2="142.30" stroke="#000" stroke-width="1.35" />
<line x1="363.36" y1="150.30" x2="363.36" y2="146.20" stroke="#000" stroke-width="1.35" />
<line x1="373.64" y1="150.30" x2="373.64" y2="146.20" stroke="#000" stroke-width="1.35" />
<line x1="383.92" y1="150.30" x2="383.92" y2="146.20" stroke="#000" stroke-width="1.35" />
<line x1="229.70" y1="142.08" x2="233.80" y2="142.08" stroke="#000" stroke-width="1.35" />
<line x1="394.20" y1="142.08" x2="390.10" y2="142.08" stroke="#000" stroke-width="1.35" />
<line x1="229.70" y1="133.86" x2="233.80" y2="133.86" stroke="#000" stroke-width="1.35" />
<line x1="394.20" y1="133.86" x2="390.10" y2="133.86" stroke="#000" stroke-width="1.35" />
<line x1="229.70" y1="125.63" x2="233.80" y2="125.63" stroke="#000" stroke-width="1.35" />
<line x1="394.20" y1="125.63" x2="390.10" y2="125.63" stroke="#000" stroke-width="1.35" />
<line x1="229.70" y1="117.41" x2="237.70" y2="117.41" stroke="#000" stroke-width="1.35" />
<line x1="394.20" y1="117.41" x2="386.20" y2="117.41" stroke="#000" stroke-width="1.35" />
<line x1="229.70" y1="109.19" x2="233.80" y2="109.19" stroke="#000" stroke-width="1.35" />
<line x1="394.20" y1="109.19" x2="390.10" y2="109.19" stroke="#000" stroke-width="1.35" />
<line x1="229.70" y1="100.97" x2="233.80" y2="100.97" stroke="#000" stroke-width="1.35" />
<line x1="394.20" y1="100.97" x2="390.10" y2="100.97" stroke="#000" stroke-width="1.35" />
<line x1="229.70" y1="92.74" x2="233.80" y2="92.74" stroke="#000" stroke-width="1.35" />
<line x1="394.20" y1="92.74" x2="390.10" y2="92.74" stroke="#000" stroke-width="1.35" />
<line x1="229.70" y1="84.52" x2="237.70" y2="84.52" stroke="#000" stroke-width="1.35" />
<line x1="394.20" y1="84.52" x2="386.20" y2="84.52" stroke="#000" stroke-width="1.35" />
<line x1="229.70" y1="76.30" x2="233.80" y2="76.30" stroke="#000" stroke-width="1.35" />
<line x1="394.20" y1="76.30" x2="390.10" y2="76.30" stroke="#000" stroke-width="1.35" />
<line x1="229.70" y1="68.08" x2="233.80" y2="68.08" stroke="#000" stroke-width="1.35" />
<line x1="394.20" y1="68.08" x2="390.10" y2="68.08" stroke="#000" stroke-width="1.35" />
<line x1="229.70" y1="59.86" x2="233.80" y2="59.86" stroke="#000" stroke-width="1.35" />
<line x1="394.20" y1="59.86" x2="390.10" y2="59.86" stroke="#000" stroke-width="1.35" />
<line x1="229.70" y1="51.63" x2="237.70" y2="51.63" stroke="#000" stroke-width="1.35" />
<line x1="394.20" y1="51.63" x2="386.20" y2="51.63" stroke="#000" stroke-width="1.35" />
<line x1="229.70" y1="43.41" x2="233.80" y2="43.41" stroke="#000" stroke-width="1.35" />
<line x1="394.20" y1="43.41" x2="390.10" y2="43.41" stroke="#000" stroke-width="1.35" />
<line x1="229.70" y1="35.19" x2="233.80" y2="35.19" stroke="#000" stroke-width="1.35" />
<line x1="394.20" y1="35.19" x2="390.10" y2="35.19" stroke="#000" stroke-width="1.35" />
<line x1="229.70" y1="26.97" x2="233.80" y2="26.97" stroke="#000" stroke-width="1.35" />
<line x1="394.20" y1="26.97" x2="390.10" y2="26.97" stroke="#000" stroke-width="1.35" />
<line x1="229.70" y1="18.74" x2="237.70" y2="18.74" stroke="#000" stroke-width="1.35" />
<line x1="394.20" y1="18.74" x2="386.20" y2="18.74" stroke="#000" stroke-width="1.35" />
<line x1="229.70" y1="10.52" x2="233.80" y2="10.52" stroke="#000" stroke-width="1.35" />
<line x1="394.20" y1="10.52" x2="390.10" y2="10.52" stroke="#000" stroke-width="1.35" />
<line x1="64.70" y1="295.55" x2="68.80" y2="295.55" stroke="#000" stroke-width="1.35" />
<line x1="64.70" y1="293.40" x2="68.80" y2="293.40" stroke="#000" stroke-width="1.35" />
<line x1="64.70" y1="291.54" x2="68.80" y2="291.54" stroke="#000" stroke-width="1.35" />
<line x1="64.70" y1="289.89" x2="68.80" y2="289.89" stroke="#000" stroke-width="1.35" />
<line x1="64.70" y1="288.42" x2="72.70" y2="288.42" stroke="#000" stroke-width="1.35" />
<line x1="64.70" y1="278.74" x2="68.80" y2="278.74" stroke="#000" stroke-width="1.35" />
<line x1="64.70" y1="273.08" x2="68.80" y2="273.08" stroke="#000" stroke-width="1.35" />
<line x1="64.70" y1="269.06" x2="68.80" y2="269.06" stroke="#000" stroke-width="1.35" />
<line x1="64.70" y1="265.94" x2="68.80" y2="265.94" stroke="#000" stroke-width="1.35" />
<line x1="64.70" y1="263.39" x2="68.80" y2="263.39" stroke="#000" stroke-width="1.35" />
<line x1="64.70" y1="261.24" x2="68.80" y2="261.24" stroke="#000" stroke-width="1.35" />
<line x1="64.70" y1="259.38" x2="68.80" y2="259.38" stroke="#000" stroke-width="1.35" />
<line x1="64.70" y1="257.73" x2="68.80" y2="257.73" stroke="#000" stroke-width="1.35" />
<line x1="64.70" y1="256.26" x2="72.70" y2="256.26" stroke="#000" stroke-width="1.35" />
<line x1="64.70" y1="246.58" x2="68.80" y2="246.58" stroke="#000" stroke-width="1.35" />
<line x1="64.70" y1="240.92" x2="68.80" y2="240.92" stroke="#000" stroke-width="1.35" />
<line x1="64.70" y1="236.90" x2="68.80" y2="236.90" stroke="#000" stroke-width="1.35" />
<line x1="64.70" y1="233.78" x2="68.80" y2="233.78" stroke="#000" stroke-width="1.35" />
<line x1="64.70" y1="231.23" x2="68.80" y2="231.23" stroke="#000" stroke-width="1.35" />
<line x1="64.70" y1="229.08" x2="68.80" y2="229.08" stroke="#000" stroke-width="1.35" />
<line x1="64.70" y1="227.22" x2="68.80" y2="227.22" stroke="#000" stroke-width="1.35" />
<line x1="64.70" y1="225.57" x2="68.80" y2="225.57" stroke="#000" stroke-width="1.35" />
<line x1="64.70" y1="224.10" x2="72.70" y2="224.10" stroke="#000" stroke-width="1.35" />
<line x1="64.70" y1="214.42" x2="68.80" y2="214.42" stroke="#000" stroke-width="1.35" />
<line x1="64.70" y1="208.76" x2="68.80" y2="208.76" stroke="#000" stroke-width="1.35" />
<line x1="64.70" y1="204.74" x2="68.80" y2="204.74" stroke="#000" stroke-width="1.35" />
<line x1="64.70" y1="201.62" x2="68.80" y2="201.62" stroke="#000" stroke-width="1.35" />
<line x1="64.70" y1="199.08" x2="68.80" y2="199.08" stroke="#000" stroke-width="1.35" />
<line x1="64.70" y1="196.92" x2="68.80" y2="196.92" stroke="#000" stroke-width="1.35" />
<line x1="64.70" y1="195.06" x2="68.80" y2="195.06" stroke="#000" stroke-width="1.35" />
<line x1="64.70" y1="193.41" x2="68.80" y2="193.41" stroke="#000" stroke-width="1.35" />
<line x1="64.70" y1="191.94" x2="72.70" y2="191.94" stroke="#000" stroke-width="1.35" />
<line x1="64.70" y1="182.26" x2="68.80" y2="182.26" stroke="#000" stroke-width="1.35" />
<line x1="64.70" y1="176.60" x2="68.80" y2="176.60" stroke="#000" stroke-width="1.35" />
<line x1="64.70" y1="172.58" x2="68.80" y2="172.58" stroke="#000" stroke-width="1.35" />
<line x1="64.70" y1="169.46" x2="68.80" y2="169.46" stroke="#000" stroke-width="1.35" />
<line x1="64.70" y1="166.92" x2="68.80" y2="166.92" stroke="#000" stroke-width="1.35" />
<line x1="64.70" y1="164.76" x2="68.80" y2="164.76" stroke="#000" stroke-width="1.35" />
<line x1="64.70" y1="162.90" x2="68.80" y2="162.90" stroke="#000" stroke-width="1.35" />
<line x1="64.70" y1="161.25" x2="68.80" y2="161.25" stroke="#000" stroke-width="1.35" />
<line x1="64.70" y1="159.78" x2="72.70" y2="159.78" stroke="#000" stroke-width="1.35" />
<line x1="72.95" y1="298.10" x2="72.95" y2="294.00" stroke="#000" stroke-width="1.35" />
<line x1="81.20" y1="298.10" x2="81.20" y2="294.00" stroke="#000" stroke-width="1.35" />
<line x1="89.45" y1="298.10" x2="89.45" y2="294.00" stroke="#000" stroke-width="1.35" />
<line x1="97.70" y1="298.10" x2="97.70" y2="290.10" stroke="#000" stroke-width="1.35" />
<line x1="105.95" y1="298.10" x2="105.95" y2="294.00" stroke="#000" stroke-width="1.35" />
<line x1="114.20" y1="298.10" x2="114.20" y2="294.00" stroke="#000" stroke-width="1.35" />
<line x1="122.45" y1="298.10" x2="122.45" y2="294.00" stroke="#000" stroke-width="1.35" />
<line x1="130.70" y1="298.10" x2="130.70" y2="290.10" stroke="#000" stroke-width="1.35" />
<line x1="138.95" y1="298.10" x2="138.95" y2="294.00" stroke="#000" stroke-width="1.35" />
<line x1="147.20" y1="298.10" x2="147.20" y2="294.00" stroke="#000" stroke-width="1.35" />
<line x1="155.45" y1="298.10" x2="155.45" y2="294.00" stroke="#000" stroke-width="1.35" />
<line x1="163.70" y1="298.10" x2="163.70" y2="290.10" stroke="#000" stroke-width="1.35" />
<line x1="171.95" y1="298.10" x2="171.95" y2="294.00" stroke="#000" stroke-width="1.35" />
<line x1="180.20" y1="298.10" x2="180.20" y2="294.00" stroke="#000" stroke-width="1.35" />
<line x1="188.45" y1="298.10" x2="188.45" y2="294.00" stroke="#000" stroke-width="1.35" />
<line x1="196.70" y1="298.10" x2="196.70" y2="290.10" stroke="#000" stroke-width="1.35" />
<line x1="204.95" y1="298.10" x2="204.95" y2="294.00" stroke="#000" stroke-width="1.35" />
<line x1="213.20" y1="298.10" x2="213.20" y2="294.00" stroke="#000" stroke-width="1.35" />
<line x1="221.45" y1="298.10" x2="221.45" y2="294.00" stroke="#000" stroke-width="1.35" />
<line x1="239.98" y1="298.10" x2="239.98" y2="294.00" stroke="#000" stroke-width="1.35" />
<line x1="250.26" y1="298.10" x2="250.26" y2="294.00" stroke="#000" stroke-width="1.35" />
<line x1="260.54" y1="298.10" x2="260.54" y2="294.00" stroke="#000" stroke-width="1.35" />
<line x1="270.82" y1="298.10" x2="270.82" y2="290.10" stroke="#000" stroke-width="1.35" />
<line x1="281.11" y1="298.10" x2="281.11" y2="294.00" stroke="#000" stroke-width="1.35" />
<line x1="291.39" y1="298.10" x2="291.39" y2="294.00" stroke="#000" stroke-width="1.35" />
<line x1="301.67" y1="298.10" x2="301.67" y2="294.00" stroke="#000" stroke-width="1.35" />
<line x1="311.95" y1="298.10" x2="311.95" y2="290.10" stroke="#000" stroke-width="1.35" />
<line x1="322.23" y1="298.10" x2="322.23" y2="294.00" stroke="#000" stroke-width="1.35" />
<line x1="332.51" y1="298.10" x2="332.51" y2="294.00" stroke="#000" stroke-width="1.35" />
<line x1="342.79" y1="298.10" x2="342.79" y2="294.00" stroke="#000" stroke-width="1.35" />
<line x1="353.07" y1="298.10" x2="353.07" y2="290.10" stroke="#000" stroke-width="1.35" />
<line x1="363.36" y1="298.10" x2="363.36" y2="294.00" stroke="#000" stroke-width="1.35" />
<line x1="373.64" y1="298.10" x2="373.64" y2="294.00" stroke="#000" stroke-width="1.35" />
<line x1="383.92" y1="298.10" x2="383.92" y2="294.00" stroke="#000" stroke-width="1.35" />
<line x1="229.70" y1="289.88" x2="233.80" y2="289.88" stroke="#000" stroke-width="1.35" />
<line x1="394.20" y1="289.88" x2="390.10" y2="289.88" stroke="#000" stroke-width="1.35" />
<line x1="229.70" y1="281.66" x2="233.80" y2="281.66" stroke="#000" stroke-width="1.35" />
<line x1="394.20" y1="281.66" x2="390.10" y2="281.66" stroke="#000" stroke-width="1.35" />
<line x1="229.70" y1="273.43" x2="233.80" y2="273.43" stroke="#000" stroke-width="1.35" />
<line x1="394.20" y1="273.43" x2="390.10" y2="273.43" stroke="#000" stroke-width="1.35" />
<line x1="229.70" y1="265.21" x2="237.70" y2="265.21" stroke="#000" stroke-width="1.35" />
<line x1="394.20" y1="265.21" x2="386.20" y2="265.21" stroke="#000" stroke-width="1.35" />
<line x1="229.70" y1="256.99" x2="233.80" y2="256.99" stroke="#000" stroke-width="1.35" />
<line x1="394.20" y1="256.99" x2="390.10" y2="256.99" stroke="#000" stroke-width="1.35" />
<line x1="229.70" y1="248.77" x2="233.80" y2="248.77" stroke="#000" stroke-width="1.35" />
<line x1="394.20" y1="248.77" x2="390.10" y2="248.77" stroke="#000" stroke-width="1.35" />
<line x1="229.70" y1="240.54" x2="233.80" y2="240.54" stroke="#000" stroke-width="1.35" />
<line x1="394.20" y1="240.54" x2="390.10" y2="240.54" stroke="#000" stroke-width="1.35" />
<line x1="229.70" y1="232.32" x2="237.70" y2="232.32" stroke="#000" stroke-width="1.35" />
<line x1="394.20" y1="232.32" x2="386.20" y2="232.32" stroke="#000" stroke-width="1.35" />
<line x1="229.70" y1="224.10" x2="233.80" y2="224.10" stroke="#000" stroke-width="1.35" />
<line x1="394.20" y1="224.10" x2="390.10" y2="224.10" stroke="#000" stroke-width="1.35" />
<line x1="229.70" y1="215.88" x2="233.80" y2="215.88" stroke="#000" stroke-width="1.35" />
<line x1="394.20" y1="215.88" x2="390.10" y2="215.88" stroke="#000" stroke-width="1.35" />
<line x1="229.70" y1="207.66" x2="233.80" y2="207.66" stroke="#000" stroke-width="1.35" />
<line x1="394.20" y1="207.66" x2="390.10" y2="207.66" stroke="#000" stroke-width="1.35" />
<line x1="229.70" y1="199.43" x2="237.70" y2="199.43" stroke="#000" stroke-width="1.35" />
<line x1="394.20" y1="199.43" x2="386.20" y2="199.43" stroke="#000" stroke-width="1.35" />
<line x1="229.70" y1="191.21" x2="233.80" y2="191.21" stroke="#000" stroke-width="1.35" />
<line x1="394.20" y1="191.21" x2="390.10" y2="191.21" stroke="#000" stroke-width="1.35" />
<line x1="229.70" y1="182.99" x2="233.80" y2="182.99" stroke="#000" stroke-width="1.35" />
<line x1="394.20" y1="182.99" x2="390.10" y2="182.99" stroke="#000" stroke-width="1.35" />
<line x1="229.70" y1="174.77" x2="233.80" y2="174.77" stroke="#000" stroke-width="1.35" />
<line x1="394.20" y1="174.77" x2="390.10" y2="174.77" stroke="#000" stroke-width="1.35" />
<line x1="229.70" y1="166.54" x2="237.70" y2="166.54" stroke="#000" stroke-width="1.35" />
<line x1="394.20" y1="166.54" x2="386.20" y2="166.54" stroke="#000" stroke-width="1.35" />
<line x1="229.70" y1="158.32" x2="233.80" y2="158.32" stroke="#000" stroke-width="1.35" />
<line x1="394.20" y1="158.32" x2="390.10" y2="158.32" stroke="#000" stroke-width="1.35" />
<line x1="64.70" y1="443.55" x2="68.80" y2="443.55" stroke="#000" stroke-width="1.35" />
<line x1="64.70" y1="441.40" x2="68.80" y2="441.40" stroke="#000" stroke-width="1.35" />
<line x1="64.70" y1="439.54" x2="68.80" y2="439.54" stroke="#000" stroke-width="1.35" />
<line x1="64.70" y1="437.89" x2="68.80" y2="437.89" stroke="#000" stroke-width="1.35" />
<line x1="64.70" y1="436.42" x2="72.70" y2="436.42" stroke="#000" stroke-width="1.35" />
<line x1="64.70" y1="426.74" x2="68.80" y2="426.74" stroke="#000" stroke-width="1.35" />
<line x1="64.70" y1="421.08" x2="68.80" y2="421.08" stroke="#000" stroke-width="1.35" />
<line x1="64.70" y1="417.06" x2="68.80" y2="417.06" stroke="#000" stroke-width="1.35" />
<line x1="64.70" y1="413.94" x2="68.80" y2="413.94" stroke="#000" stroke-width="1.35" />
<line x1="64.70" y1="411.39" x2="68.80" y2="411.39" stroke="#000" stroke-width="1.35" />
<line x1="64.70" y1="409.24" x2="68.80" y2="409.24" stroke="#000" stroke-width="1.35" />
<line x1="64.70" y1="407.38" x2="68.80" y2="407.38" stroke="#000" stroke-width="1.35" />
<line x1="64.70" y1="405.73" x2="68.80" y2="405.73" stroke="#000" stroke-width="1.35" />
<line x1="64.70" y1="404.26" x2="72.70" y2="404.26" stroke="#000" stroke-width="1.35" />
<line x1="64.70" y1="394.58" x2="68.80" y2="394.58" stroke="#000" stroke-width="1.35" />
<line x1="64.70" y1="388.92" x2="68.80" y2="388.92" stroke="#000" stroke-width="1.35" />
<line x1="64.70" y1="384.90" x2="68.80" y2="384.90" stroke="#000" stroke-width="1.35" />
<line x1="64.70" y1="381.78" x2="68.80" y2="381.78" stroke="#000" stroke-width="1.35" />
<line x1="64.70" y1="379.23" x2="68.80" y2="379.23" stroke="#000" stroke-width="1.35" />
<line x1="64.70" y1="377.08" x2="68.80" y2="377.08" stroke="#000" stroke-width="1.35" />
<line x1="64.70" y1="375.22" x2="68.80" y2="375.22" stroke="#000" stroke-width="1.35" />
<line x1="64.70" y1="373.57" x2="68.80" y2="373.57" stroke="#000" stroke-width="1.35" />
<line x1="64.70" y1="372.10" x2="72.70" y2="372.10" stroke="#000" stroke-width="1.35" />
<line x1="64.70" y1="362.42" x2="68.80" y2="362.42" stroke="#000" stroke-width="1.35" />
<line x1="64.70" y1="356.76" x2="68.80" y2="356.76" stroke="#000" stroke-width="1.35" />
<line x1="64.70" y1="352.74" x2="68.80" y2="352.74" stroke="#000" stroke-width="1.35" />
<line x1="64.70" y1="349.62" x2="68.80" y2="349.62" stroke="#000" stroke-width="1.35" />
<line x1="64.70" y1="347.08" x2="68.80" y2="347.08" stroke="#000" stroke-width="1.35" />
<line x1="64.70" y1="344.92" x2="68.80" y2="344.92" stroke="#000" stroke-width="1.35" />
<line x1="64.70" y1="343.06" x2="68.80" y2="343.06" stroke="#000" stroke-width="1.35" />
<line x1="64.70" y1="341.41" x2="68.80" y2="341.41" stroke="#000" stroke-width="1.35" />
<line x1="64.70" y1="339.94" x2="72.70" y2="339.94" stroke="#000" stroke-width="1.35" />
<line x1="64.70" y1="330.26" x2="68.80" y2="330.26" stroke="#000" stroke-width="1.35" />
<line x1="64.70" y1="324.60" x2="68.80" y2="324.60" stroke="#000" stroke-width="1.35" />
<line x1="64.70" y1="320.58" x2="68.80" y2="320.58" stroke="#000" stroke-width="1.35" />
<line x1="64.70" y1="317.46" x2="68.80" y2="317.46" stroke="#000" stroke-width="1.35" />
<line x1="64.70" y1="314.92" x2="68.80" y2="314.92" stroke="#000" stroke-width="1.35" />
<line x1="64.70" y1="312.76" x2="68.80" y2="312.76" stroke="#000" stroke-width="1.35" />
<line x1="64.70" y1="310.90" x2="68.80" y2="310.90" stroke="#000" stroke-width="1.35" />
<line x1="64.70" y1="309.25" x2="68.80" y2="309.25" stroke="#000" stroke-width="1.35" />
<line x1="64.70" y1="307.78" x2="72.70" y2="307.78" stroke="#000" stroke-width="1.35" />
<line x1="72.95" y1="446.10" x2="72.95" y2="442.00" stroke="#000" stroke-width="1.35" />
<line x1="81.20" y1="446.10" x2="81.20" y2="442.00" stroke="#000" stroke-width="1.35" />
<line x1="89.45" y1="446.10" x2="89.45" y2="442.00" stroke="#000" stroke-width="1.35" />
<line x1="97.70" y1="446.10" x2="97.70" y2="438.10" stroke="#000" stroke-width="1.35" />
<line x1="105.95" y1="446.10" x2="105.95" y2="442.00" stroke="#000" stroke-width="1.35" />
<line x1="114.20" y1="446.10" x2="114.20" y2="442.00" stroke="#000" stroke-width="1.35" />
<line x1="122.45" y1="446.10" x2="122.45" y2="442.00" stroke="#000" stroke-width="1.35" />
<line x1="130.70" y1="446.10" x2="130.70" y2="438.10" stroke="#000" stroke-width="1.35" />
<line x1="138.95" y1="446.10" x2="138.95" y2="442.00" stroke="#000" stroke-width="1.35" />
<line x1="147.20" y1="446.10" x2="147.20" y2="442.00" stroke="#000" stroke-width="1.35" />
<line x1="155.45" y1="446.10" x2="155.45" y2="442.00" stroke="#000" stroke-width="1.35" />
<line x1="163.70" y1="446.10" x2="163.70" y2="438.10" stroke="#000" stroke-width="1.35" />
<line x1="171.95" y1="446.10" x2="171.95" y2="442.00" stroke="#000" stroke-width="1.35" />
<line x1="180.20" y1="446.10" x2="180.20" y2="442.00" stroke="#000" stroke-width="1.35" />
<line x1="188.45" y1="446.10" x2="188.45" y2="442.00" stroke="#000" stroke-width="1.35" />
<line x1="196.70" y1="446.10" x2="196.70" y2="438.10" stroke="#000" stroke-width="1.35" />
<line x1="204.95" y1="446.10" x2="204.95" y2="442.00" stroke="#000" stroke-width="1.35" />
<line x1="213.20" y1="446.10" x2="213.20" y2="442.00" stroke="#000" stroke-width="1.35" />
<line x1="221.45" y1="446.10" x2="221.45" y2="442.00" stroke="#000" stroke-width="1.35" />
<line x1="239.98" y1="446.10" x2="239.98" y2="442.00" stroke="#000" stroke-width="1.35" />
<line x1="250.26" y1="446.10" x2="250.26" y2="442.00" stroke="#000" stroke-width="1.35" />
<line x1="260.54" y1="446.10" x2="260.54" y2="442.00" stroke="#000" stroke-width="1.35" />
<line x1="270.82" y1="446.10" x2="270.82" y2="438.10" stroke="#000" stroke-width="1.35" />
<line x1="281.11" y1="446.10" x2="281.11" y2="442.00" stroke="#000" stroke-width="1.35" />
<line x1="291.39" y1="446.10" x2="291.39" y2="442.00" stroke="#000" stroke-width="1.35" />
<line x1="301.67" y1="446.10" x2="301.67" y2="442.00" stroke="#000" stroke-width="1.35" />
<line x1="311.95" y1="446.10" x2="311.95" y2="438.10" stroke="#000" stroke-width="1.35" />
<line x1="322.23" y1="446.10" x2="322.23" y2="442.00" stroke="#000" stroke-width="1.35" />
<line x1="332.51" y1="446.10" x2="332.51" y2="442.00" stroke="#000" stroke-width="1.35" />
<line x1="342.79" y1="446.10" x2="342.79" y2="442.00" stroke="#000" stroke-width="1.35" />
<line x1="353.07" y1="446.10" x2="353.07" y2="438.10" stroke="#000" stroke-width="1.35" />
<line x1="363.36" y1="446.10" x2="363.36" y2="442.00" stroke="#000" stroke-width="1.35" />
<line x1="373.64" y1="446.10" x2="373.64" y2="442.00" stroke="#000" stroke-width="1.35" />
<line x1="383.92" y1="446.10" x2="383.92" y2="442.00" stroke="#000" stroke-width="1.35" />
<line x1="229.70" y1="437.88" x2="233.80" y2="437.88" stroke="#000" stroke-width="1.35" />
<line x1="394.20" y1="437.88" x2="390.10" y2="437.88" stroke="#000" stroke-width="1.35" />
<line x1="229.70" y1="429.66" x2="233.80" y2="429.66" stroke="#000" stroke-width="1.35" />
<line x1="394.20" y1="429.66" x2="390.10" y2="429.66" stroke="#000" stroke-width="1.35" />
<line x1="229.70" y1="421.43" x2="233.80" y2="421.43" stroke="#000" stroke-width="1.35" />
<line x1="394.20" y1="421.43" x2="390.10" y2="421.43" stroke="#000" stroke-width="1.35" />
<line x1="229.70" y1="413.21" x2="237.70" y2="413.21" stroke="#000" stroke-width="1.35" />
<line x1="394.20" y1="413.21" x2="386.20" y2="413.21" stroke="#000" stroke-width="1.35" />
<line x1="229.70" y1="404.99" x2="233.80" y2="404.99" stroke="#000" stroke-width="1.35" />
<line x1="394.20" y1="404.99" x2="390.10" y2="404.99" stroke="#000" stroke-width="1.35" />
<line x1="229.70" y1="396.77" x2="233.80" y2="396.77" stroke="#000" stroke-width="1.35" />
<line x1="394.20" y1="396.77" x2="390.10" y2="396.77" stroke="#000" stroke-width="1.35" />
<line x1="229.70" y1="388.54" x2="233.80" y2="388.54" stroke="#000" stroke-width="1.35" />
<line x1="394.20" y1="388.54" x2="390.10" y2="388.54" stroke="#000" stroke-width="1.35" />
<line x1="229.70" y1="380.32" x2="237.70" y2="380.32" stroke="#000" stroke-width="1.35" />
<line x1="394.20" y1="380.32" x2="386.20" y2="380.32" stroke="#000" stroke-width="1.35" />
<line x1="229.70" y1="372.10" x2="233.80" y2="372.10" stroke="#000" stroke-width="1.35" />
<line x1="394.20" y1="372.10" x2="390.10" y2="372.10" stroke="#000" stroke-width="1.35" />
<line x1="229.70" y1="363.88" x2="233.80" y2="363.88" stroke="#000" stroke-width="1.35" />
<line x1="394.20" y1="363.88" x2="390.10" y2="363.88" stroke="#000" stroke-width="1.35" />
<line x1="229.70" y1="355.66" x2="233.80" y2="355.66" stroke="#000" stroke-width="1.35" />
<line x1="394.20" y1="355.66" x2="390.10" y2="355.66" stroke="#000" stroke-width="1.35" />
<line x1="229.70" y1="347.43" x2="237.70" y2="347.43" stroke="#000" stroke-width="1.35" />
<line x1="394.20" y1="347.43" x2="386.20" y2="347.43" stroke="#000" stroke-width="1.35" />
<line x1="229.70" y1="339.21" x2="233.80" y2="339.21" stroke="#000" stroke-width="1.35" />
<line x1="394.20" y1="339.21" x2="390.10" y2="339.21" stroke="#000" stroke-width="1.35" />
<line x1="229.70" y1="330.99" x2="233.80" y2="330.99" stroke="#000" stroke-width="1.35" />
<line x1="394.20" y1="330.99" x2="390.10" y2="330.99" stroke="#000" stroke-width="1.35" />
<line x1="229.70" y1="322.77" x2="233.80" y2="322.77" stroke="#000" stroke-width="1.35" />
<line x1="394.20" y1="322.77" x2="390.10" y2="322.77" stroke="#000" stroke-width="1.35" />
<line x1="229.70" y1="314.54" x2="237.70" y2="314.54" stroke="#000" stroke-width="1.35" />
<line x1="394.20" y1="314.54" x2="386.20" y2="314.54" stroke="#000" stroke-width="1.35" />
<line x1="229.70" y1="306.32" x2="233.80" y2="306.32" stroke="#000" stroke-width="1.35" />
<line x1="394.20" y1="306.32" x2="390.10" y2="306.32" stroke="#000" stroke-width="1.35" />
<rect x="64.7" y="2.3" width="329.5" height="443.8" fill="none" stroke="#000" stroke-width="1.4"/>
<line x1="229.70" y1="2.30" x2="229.70" y2="446.10" stroke="#000" stroke-width="1.4" />
<line x1="64.70" y1="150.30" x2="394.20" y2="150.30" stroke="#000" stroke-width="1.4" />
<line x1="64.70" y1="298.10" x2="394.20" y2="298.10" stroke="#000" stroke-width="1.4" />
<text x="55.00" y="21.38" font-size="18.0" text-anchor="end" textLength="16.6" lengthAdjust="spacingAndGlyphs" >10</text>
<text x="55.30" y="11.28" font-size="12.6" text-anchor="start" >3</text>
<text x="55.00" y="53.54" font-size="18.0" text-anchor="end" textLength="16.6" lengthAdjust="spacingAndGlyphs" >10</text>
<text x="55.30" y="43.44" font-size="12.6" text-anchor="start" >2</text>
<text x="51.00" y="150.02" font-size="18.0" text-anchor="end" textLength="16.6" lengthAdjust="spacingAndGlyphs" >10</text>
<text x="51.30" y="139.92" font-size="12.6" text-anchor="start" >-1</text>
<text x="61.40" y="82.50" font-size="18.0" text-anchor="end" textLength="16.6" lengthAdjust="spacingAndGlyphs" >10</text>
<text x="61.60" y="114.66" font-size="18.0" text-anchor="end" >1</text>
<text x="401.70" y="156.60" font-size="18.0" text-anchor="start" >0</text>
<text x="401.70" y="123.71" font-size="18.0" text-anchor="start" >2</text>
<text x="401.70" y="90.82" font-size="18.0" text-anchor="start" >4</text>
<text x="401.70" y="57.93" font-size="18.0" text-anchor="start" >6</text>
<text x="401.70" y="25.04" font-size="18.0" text-anchor="start" >8</text>
<text x="55.00" y="169.18" font-size="18.0" text-anchor="end" textLength="16.6" lengthAdjust="spacingAndGlyphs" >10</text>
<text x="55.30" y="159.08" font-size="12.6" text-anchor="start" >3</text>
<text x="55.00" y="201.34" font-size="18.0" text-anchor="end" textLength="16.6" lengthAdjust="spacingAndGlyphs" >10</text>
<text x="55.30" y="191.24" font-size="12.6" text-anchor="start" >2</text>
<text x="51.00" y="297.82" font-size="18.0" text-anchor="end" textLength="16.6" lengthAdjust="spacingAndGlyphs" >10</text>
<text x="51.30" y="287.72" font-size="12.6" text-anchor="start" >-1</text>
<text x="61.40" y="230.30" font-size="18.0" text-anchor="end" textLength="16.6" lengthAdjust="spacingAndGlyphs" >10</text>
<text x="61.60" y="262.46" font-size="18.0" text-anchor="end" >1</text>
<text x="401.70" y="304.40" font-size="18.0" text-anchor="start" >0</text>
<text x="401.70" y="271.51" font-size="18.0" text-anchor="start" >2</text>
<text x="401.70" y="238.62" font-size="18.0" text-anchor="start" >4</text>
<text x="401.70" y="205.73" font-size="18.0" text-anchor="start" >6</text>
<text x="401.70" y="172.84" font-size="18.0" text-anchor="start" >8</text>
<text x="55.00" y="317.18" font-size="18.0" text-anchor="end" textLength="16.6" lengthAdjust="spacingAndGlyphs" >10</text>
<text x="55.30" y="307.08" font-size="12.6" text-anchor="start" >3</text>
<text x="55.00" y="349.34" font-size="18.0" text-anchor="end" textLength="16.6" lengthAdjust="spacingAndGlyphs" >10</text>
<text x="55.30" y="339.24" font-size="12.6" text-anchor="start" >2</text>
<text x="51.00" y="445.82" font-size="18.0" text-anchor="end" textLength="16.6" lengthAdjust="spacingAndGlyphs" >10</text>
<text x="51.30" y="435.72" font-size="12.6" text-anchor="start" >-1</text>
<text x="61.40" y="378.30" font-size="18.0" text-anchor="end" textLength="16.6" lengthAdjust="spacingAndGlyphs" >10</text>
<text x="61.60" y="410.46" font-size="18.0" text-anchor="end" >1</text>
<text x="401.70" y="452.40" font-size="18.0" text-anchor="start" >0</text>
<text x="401.70" y="419.51" font-size="18.0" text-anchor="start" >2</text>
<text x="401.70" y="386.62" font-size="18.0" text-anchor="start" >4</text>
<text x="401.70" y="353.73" font-size="18.0" text-anchor="start" >6</text>
<text x="401.70" y="320.84" font-size="18.0" text-anchor="start" >8</text>
<text x="64.70" y="467.40" font-size="18.0" text-anchor="middle" >0</text>
<text x="97.70" y="467.40" font-size="18.0" text-anchor="middle" >2</text>
<text x="130.70" y="467.40" font-size="18.0" text-anchor="middle" >4</text>
<text x="163.70" y="467.40" font-size="18.0" text-anchor="middle" >6</text>
<text x="196.70" y="467.40" font-size="18.0" text-anchor="middle" >8</text>
<text x="229.70" y="467.40" font-size="18.0" text-anchor="middle" >0</text>
<text x="270.82" y="467.40" font-size="18.0" text-anchor="middle" >4</text>
<text x="311.95" y="467.40" font-size="18.0" text-anchor="middle" >8</text>
<text x="353.07" y="467.40" font-size="18.0" text-anchor="middle" >12</text>
<text x="394.20" y="467.40" font-size="18.0" text-anchor="middle" >16</text>
<text x="90.90" y="18.80" font-size="15.3" font-style="italic" text-anchor="start" textLength="49.6" lengthAdjust="spacingAndGlyphs" >N=2000</text>
<text x="89.60" y="35.90" font-size="15.3" text-anchor="start" >(a) ν=0.5</text>
<text x="89.60" y="170.50" font-size="15.3" text-anchor="start" >(b) ν=1.0</text>
<text x="89.60" y="318.50" font-size="15.3" text-anchor="start" >(c) ν=2.0</text>
<text x="243.60" y="22.70" font-size="15.3" text-anchor="start" >(d) ν=0.5</text>
<text x="243.60" y="170.50" font-size="15.3" text-anchor="start" >(e) ν=1.0</text>
<text x="243.60" y="318.50" font-size="15.3" text-anchor="start" >(f) ν=2.0</text>
<text x="166.50" y="21.10" font-size="15.3" font-style="italic" text-anchor="start" textLength="20.4" lengthAdjust="spacingAndGlyphs" >T/ħ</text>
<text x="187.30" y="21.10" font-size="15.3" text-anchor="start" textLength="10.6" lengthAdjust="spacingAndGlyphs" >ω</text>
<text x="197.60" y="24.70" font-size="11.5" text-anchor="start" textLength="6.2" lengthAdjust="spacingAndGlyphs" >ρ</text>
<text x="203.80" y="21.10" font-size="15.3" text-anchor="start" >=</text>
<line x1="168.00" y1="32.60" x2="201.00" y2="32.60" stroke="#000" stroke-width="1.5" />
<text x="209.20" y="37.60" font-size="13.8" text-anchor="start" >3</text>
<line x1="168.00" y1="49.90" x2="201.00" y2="49.90" stroke="#0000ff" stroke-width="1.5" stroke-dasharray="6.6 3.1"/>
<text x="209.20" y="54.90" font-size="13.8" text-anchor="start" >7</text>
<line x1="168.00" y1="67.00" x2="201.00" y2="67.00" stroke="#ff0000" stroke-width="1.5" stroke-dasharray="1.6 3.3 6.7 3.3"/>
<text x="209.20" y="72.00" font-size="13.8" text-anchor="start" >9</text>
<line x1="168.00" y1="84.30" x2="201.00" y2="84.30" stroke="#000" stroke-width="1.5" stroke-dasharray="1.5 2.75"/>
<text x="209.20" y="89.30" font-size="13.8" text-anchor="start" >11</text>
<line x1="168.00" y1="101.60" x2="201.00" y2="101.60" stroke="#0000ff" stroke-width="1.5" stroke-dasharray="6.6 3.3 1.7 3.3 6.6 3.3"/>
<text x="209.20" y="106.60" font-size="13.8" text-anchor="start" >13</text>
<text x="166.50" y="168.90" font-size="15.3" font-style="italic" text-anchor="start" textLength="20.4" lengthAdjust="spacingAndGlyphs" >T/ħ</text>
<text x="187.30" y="168.90" font-size="15.3" text-anchor="start" textLength="10.6" lengthAdjust="spacingAndGlyphs" >ω</text>
<text x="197.60" y="172.50" font-size="11.5" text-anchor="start" textLength="6.2" lengthAdjust="spacingAndGlyphs" >ρ</text>
<text x="203.80" y="168.90" font-size="15.3" text-anchor="start" >=</text>
<line x1="168.00" y1="180.60" x2="201.00" y2="180.60" stroke="#000" stroke-width="1.5" />
<text x="209.20" y="185.60" font-size="13.8" text-anchor="start" >3</text>
<line x1="168.00" y1="197.90" x2="201.00" y2="197.90" stroke="#ff0000" stroke-width="1.5" stroke-dasharray="1.6 3.3 6.7 3.3"/>
<text x="209.20" y="202.90" font-size="13.8" text-anchor="start" >9</text>
<line x1="168.00" y1="215.20" x2="201.00" y2="215.20" stroke="#000" stroke-width="1.5" stroke-dasharray="1.5 2.75"/>
<text x="209.20" y="220.20" font-size="13.8" text-anchor="start" >11</text>
<line x1="168.00" y1="232.50" x2="201.00" y2="232.50" stroke="#0000ff" stroke-width="1.5" stroke-dasharray="6.6 3.3 1.7 3.3 6.6 3.3"/>
<text x="209.20" y="237.50" font-size="13.8" text-anchor="start" >13</text>
<line x1="168.00" y1="250.30" x2="201.00" y2="250.30" stroke="#ff0000" stroke-width="1.5" stroke-dasharray="1.5 3.4 6.4 3.4 1.5 3.3"/>
<text x="209.20" y="255.30" font-size="13.8" text-anchor="start" >15</text>
<text x="166.50" y="316.90" font-size="15.3" font-style="italic" text-anchor="start" textLength="20.4" lengthAdjust="spacingAndGlyphs" >T/ħ</text>
<text x="187.30" y="316.90" font-size="15.3" text-anchor="start" textLength="10.6" lengthAdjust="spacingAndGlyphs" >ω</text>
<text x="197.60" y="320.50" font-size="11.5" text-anchor="start" textLength="6.2" lengthAdjust="spacingAndGlyphs" >ρ</text>
<text x="203.80" y="316.90" font-size="15.3" text-anchor="start" >=</text>
<line x1="168.00" y1="328.60" x2="201.00" y2="328.60" stroke="#000" stroke-width="1.5" />
<text x="209.20" y="333.60" font-size="13.8" text-anchor="start" >3</text>
<line x1="168.00" y1="346.20" x2="201.00" y2="346.20" stroke="#ff0000" stroke-width="1.5" stroke-dasharray="1.6 3.3 6.7 3.3"/>
<text x="209.20" y="351.20" font-size="13.8" text-anchor="start" >9</text>
<line x1="168.00" y1="363.60" x2="201.00" y2="363.60" stroke="#0000ff" stroke-width="1.5" stroke-dasharray="6.6 3.3 1.7 3.3 6.6 3.3"/>
<text x="209.20" y="368.60" font-size="13.8" text-anchor="start" >13</text>
<line x1="168.00" y1="381.30" x2="201.00" y2="381.30" stroke="#ff0000" stroke-width="1.5" stroke-dasharray="1.5 3.4 6.4 3.4 1.5 3.3"/>
<text x="209.20" y="386.30" font-size="13.8" text-anchor="start" >15</text>
<line x1="168.00" y1="398.90" x2="201.00" y2="398.90" stroke="#000" stroke-width="1.5" stroke-dasharray="8.8 3.5"/>
<text x="209.20" y="403.90" font-size="13.8" text-anchor="start" >17</text>
<text x="358.80" y="77.20" font-size="15.3" font-style="italic" text-anchor="start" textLength="19.2" lengthAdjust="spacingAndGlyphs" >N=</text>
<line x1="316.00" y1="99.20" x2="349.30" y2="99.20" stroke="#ff0000" stroke-width="1.5" stroke-dasharray="1.6 3.3 6.7 3.3"/>
<text x="357.80" y="104.10" font-size="13.8" text-anchor="start" >500</text>
<line x1="316.00" y1="116.80" x2="349.30" y2="116.80" stroke="#0000ff" stroke-width="1.5" stroke-dasharray="8.8 3.5"/>
<text x="357.80" y="121.70" font-size="13.8" text-anchor="start" >1000</text>
<line x1="316.00" y1="134.10" x2="349.30" y2="134.10" stroke="#000" stroke-width="1.5" />
<text x="357.80" y="139.00" font-size="13.8" text-anchor="start" >2000</text>
<text x="124.60" y="490.60" font-size="17.6" font-style="italic" text-anchor="start" textLength="9.6" lengthAdjust="spacingAndGlyphs" >p</text>
<text x="136.00" y="490.60" font-size="17.6" font-style="italic" text-anchor="start" >a</text>
<text x="145.20" y="493.40" font-size="15.0" text-anchor="start" >ρ</text>
<text x="153.20" y="490.60" font-size="17.6" font-style="italic" text-anchor="start" textLength="17.2" lengthAdjust="spacingAndGlyphs" >/ħ</text>
<text x="286.60" y="489.30" font-size="17.6" font-style="italic" text-anchor="start" textLength="28.2" lengthAdjust="spacingAndGlyphs" >T/ħ</text>
<text x="315.60" y="489.30" font-size="17.6" text-anchor="start" textLength="14.0" lengthAdjust="spacingAndGlyphs" >ω</text>
<text x="330.00" y="493.00" font-size="15.0" text-anchor="start" >ρ</text>
<g transform="translate(21.0,302.6) rotate(-90)">
<text x="0.50" y="0.00" font-size="24.0">ρ</text>
<text x="12.60" y="0.00" font-size="24.0" font-style="italic">(</text>
<text x="22.90" y="0.00" font-size="24.0" font-style="italic">p</text>
<text x="33.00" y="0.00" font-size="24.0" font-style="italic">)</text>
<text x="45.30" y="0.00" font-size="24.0">[</text>
<text x="53.50" y="0.00" font-size="24.0" font-style="italic">in</text>
<text x="77.00" y="0.00" font-size="24.0" font-style="italic">(a</text>
<text x="96.50" y="3.50" font-size="17.0">ρ</text>
<text x="108.20" y="4.00" font-size="24.0" font-style="italic">/</text>
<text x="116.40" y="4.00" font-size="24.0" font-style="italic">ħ</text>
<text x="132.40" y="0.00" font-size="24.0" font-style="italic">)</text>
<text x="139.20" y="-7.50" font-size="17.0">3</text>
<text x="152.20" y="0.00" font-size="24.0">]</text>
</g>
<g transform="translate(433.5,165.5) rotate(90)">
<path d="M0.4,-5.6 L3.3,-7.9 L11.5,8.9 L15.9,-20.9 L126,-20.4" fill="none" stroke="#000" stroke-width="1.25" stroke-linejoin="miter"/>
<path d="M3.1,-7.6 L11.2,8.3" fill="none" stroke="#000" stroke-width="2.3"/>
<path d="M26.7,-14.5 L20.9,-5.0 L26.7,4.5" fill="none" stroke="#000" stroke-width="1.3"/>
<path d="M118.6,-14.5 L124.6,-5.0 L118.6,4.5" fill="none" stroke="#000" stroke-width="1.3"/>
<text x="29.30" y="2.00" font-size="24.0" font-style="italic">(p</text>
<text x="50.80" y="2.00" font-size="24.0" font-style="italic">a</text>
<text x="61.20" y="5.50" font-size="17.0">ρ</text>
<text x="74.10" y="6.50" font-size="24.0" font-style="italic">/</text>
<text x="83.30" y="6.50" font-size="24.0" font-style="italic">ħ</text>
<text x="100.20" y="2.00" font-size="24.0" font-style="italic">)</text>
<text x="106.40" y="-5.50" font-size="17.0">2</text>
</g>
</g>
</svg></body></html>
